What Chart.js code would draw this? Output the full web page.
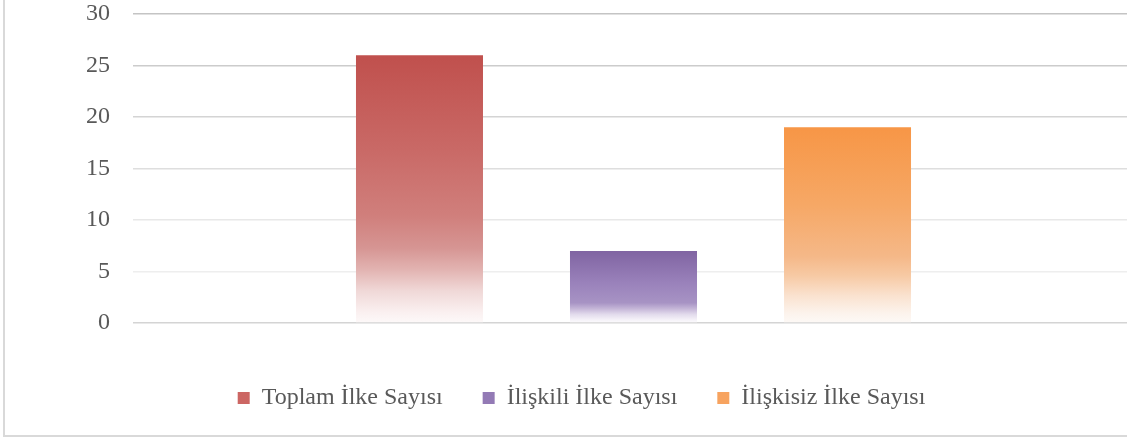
<!DOCTYPE html>
<html>
<head>
<meta charset="utf-8">
<script src="https://cdn.jsdelivr.net/npm/chart.js@4"></script>
<style>
  html, body { margin: 0; padding: 0; background: #ffffff; overflow: hidden; }
  #wrap {
    position: absolute; left: 3px; top: 0;
    width: 1129px; height: 435px;
    border-left: 2px solid #d9d9d9;
    border-bottom: 2px solid #d9d9d9;
  }
</style>
</head>
<body>
<div id="wrap"><canvas id="ilkeChart"></canvas></div>
<script>
const categories = [''];
const seriesNames = ['Toplam İlke Sayısı', 'İlişkili İlke Sayısı', 'İlişkisiz İlke Sayısı'];
const toplamValues = [26];
const iliskiliValues = [7];
const iliskisizValues = [19];
const yTickValues = [0, 5, 10, 15, 20, 25, 30];

const gridColors = {
    0: '#d4d4d4', 5: '#eeeeee', 10: '#e8e8e8', 15: '#dedede',
    20: '#d4d4d4', 25: '#cccccc', 30: '#c4c4c4'
};

// vertical fade: full colour at top, white at the foot of the bar
function barFill(stops, fallback) {
    return function(c) {
        const chart = c.chart;
        if (!chart.chartArea) return fallback;
        const y = chart.scales.y;
        const top = y.getPixelForValue(c.raw);
        const base = y.getPixelForValue(0);
        if (!isFinite(top) || top === base) return fallback;
        const g = chart.ctx.createLinearGradient(0, top, 0, base);
        stops.forEach(s => g.addColorStop(s[0], s[1]));
        return g;
    };
}

const redStops = [[0, '#c0504d'], [0.35, '#c96966'], [0.6, '#d07f7c'], [0.72, '#d69593'],
                  [0.8, '#e2b3b1'], [0.88, '#f0d8d7'], [0.96, '#faf0f0'], [1, '#fdf9f9']];
const purpleStops = [[0, '#8064a2'], [0.45, '#9a82bb'], [0.72, '#a793c4'], [0.8, '#c4b5d7'],
                     [0.88, '#e2dbec'], [0.96, '#f6f3f9'], [1, '#fcfbfd']];
const orangeStops = [[0, '#f79646'], [0.4, '#f6a866'], [0.66, '#f5b888'], [0.76, '#f7caa5'],
                     [0.86, '#fae2cf'], [0.95, '#fcf3ec'], [1, '#fdf9f6']];

const legendColors = ['#cc6663', '#937ab5', '#f7a35f'];
const fontFamily = '"Liberation Serif", "Times New Roman", serif';

const ctx = document.getElementById('ilkeChart').getContext('2d');
new Chart(ctx, {
    type: 'bar',
    data: {
        labels: categories,
        datasets: [
            { label: seriesNames[0], data: toplamValues, backgroundColor: barFill(redStops, '#c0504d') },
            { label: seriesNames[1], data: iliskiliValues, backgroundColor: barFill(purpleStops, '#8064a2') },
            { label: seriesNames[2], data: iliskisizValues, backgroundColor: barFill(orangeStops, '#f79646') }
        ]
    },
    options: {
        responsive: true,
        maintainAspectRatio: false,
        animation: false,
        categoryPercentage: 0.6414,
        barPercentage: 0.5935,
        layout: { padding: { left: 24, right: 0, top: 0, bottom: 15 } },
        plugins: {
            tooltip: { enabled: false },
            legend: {
                display: true,
                position: 'bottom',
                labels: {
                    color: '#595959',
                    font: { family: fontFamily, size: 24 },
                    boxWidth: 12,
                    boxHeight: 12,
                    padding: 40,
                    generateLabels: chart => chart.data.datasets.map((ds, i) => ({
                        text: ds.label,
                        fillStyle: legendColors[i],
                        strokeStyle: legendColors[i],
                        lineWidth: 0,
                        datasetIndex: i,
                        fontColor: '#595959'
                    }))
                }
            }
        },
        scales: {
            x: {
                grid: { display: false },
                border: { display: false },
                ticks: { display: false },
                afterFit: s => { s.height = 23; }
            },
            y: {
                min: 0,
                max: 30,
                afterBuildTicks: s => { s.ticks = yTickValues.map(v => ({ value: v })); },
                afterFit: s => {
                    s.width = 104;
                    s.paddingTop = 14;
                    s.paddingBottom = 0;
                },
                border: { display: false },
                grid: {
                    drawTicks: false,
                    lineWidth: 1.5,
                    color: c => gridColors[c.tick.value] || '#d9d9d9'
                },
                ticks: {
                    padding: 23,
                    color: '#595959',
                    font: { family: fontFamily, size: 24 }
                }
            }
        }
    }
});
</script>
</body>
</html>
